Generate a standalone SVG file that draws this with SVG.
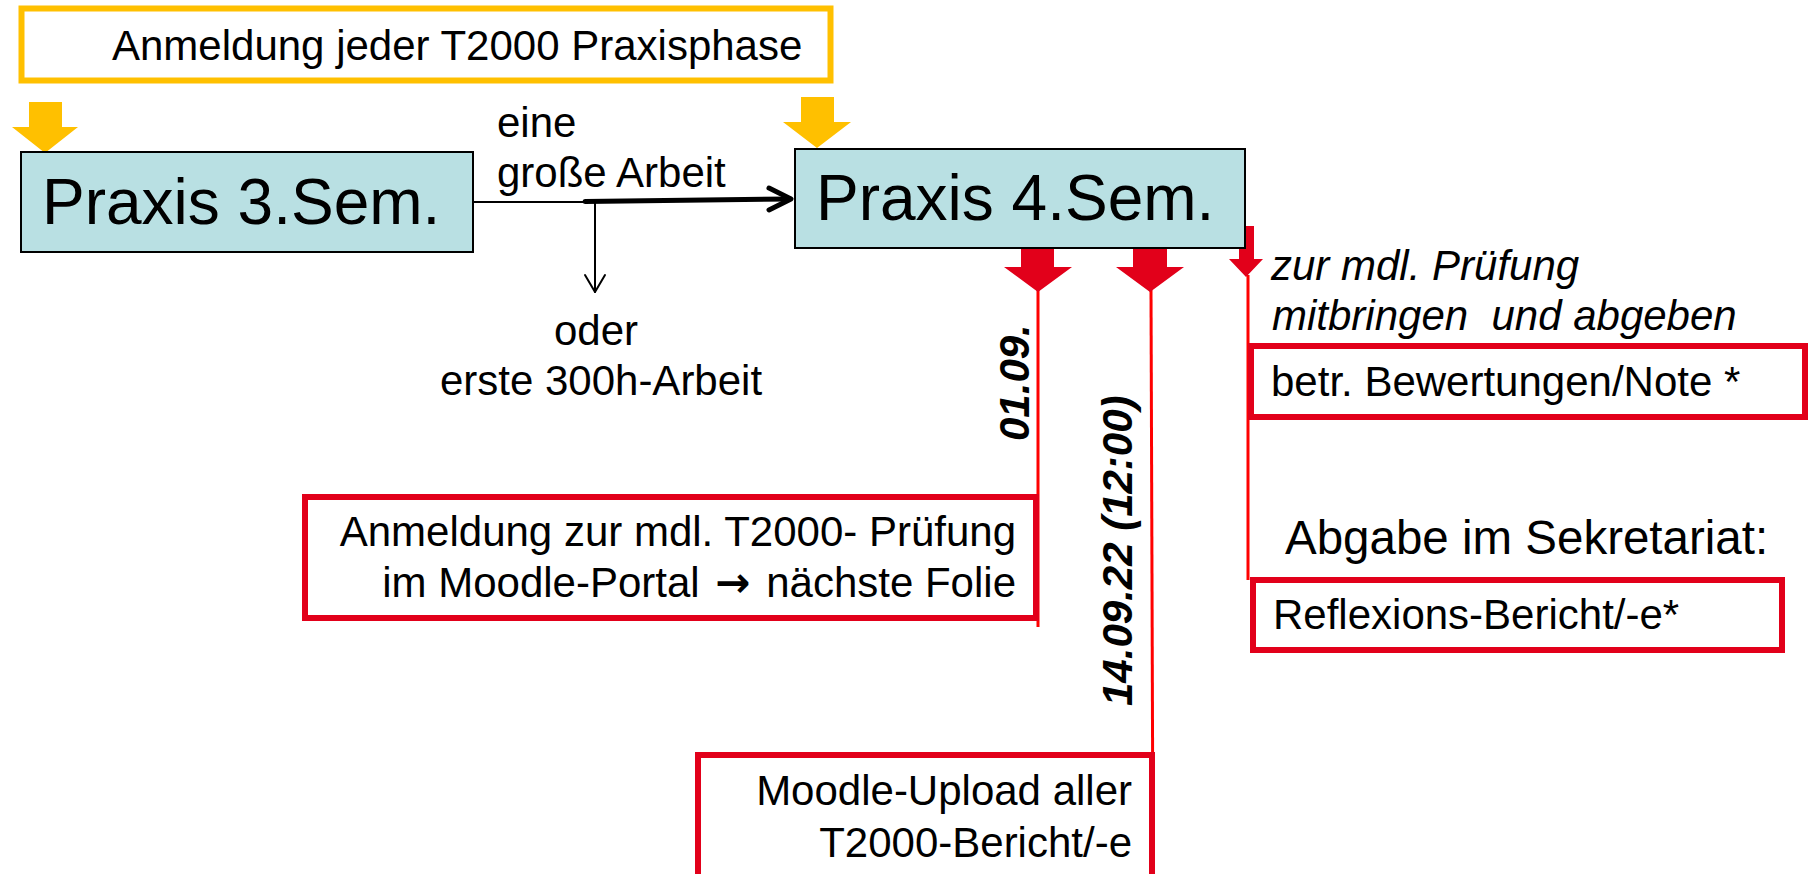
<svg xmlns="http://www.w3.org/2000/svg" width="1808" height="874" viewBox="0 0 1808 874">
<style>
.t{font-family:"Liberation Sans",Arial,sans-serif;font-size:42px;fill:#000}
.big{font-size:64px}
.it{font-style:italic}
.bi{font-style:italic;font-weight:bold}
.end{text-anchor:end}
.arw{font-family:"DejaVu Sans",sans-serif;font-size:42px;font-weight:bold}
.ybox{fill:#fff;stroke:#FFC000;stroke-width:6}
.rbox{fill:#fff;stroke:#E2001A;stroke-width:6}
.tbox{fill:#B9E0E3;stroke:#000;stroke-width:2}
.yarr{fill:#FFC000}
.rarr{fill:#E2001A}
.rline{stroke:#FF0000;stroke-width:3;fill:none}
.bl{stroke:#000;fill:none;stroke-linecap:round;stroke-linejoin:round}
</style>
<rect width="1808" height="874" fill="#fff"/>

<g id="connectors">
  <polygon class="yarr" points="29,102 62,102 62,127 78,127 45,153 12,127 29,127"/>
  <polygon class="yarr" points="801,97 834,97 834,122 851,122 817,148 783,122 801,122"/>
  <line class="bl" x1="473" y1="202" x2="585" y2="202" stroke-width="2"/>
  <line class="bl" x1="585" y1="201.5" x2="790" y2="199" stroke-width="5"/>
  <polyline class="bl" points="769,188 791,199 769,210" stroke-width="5"/>
  <line class="bl" x1="595" y1="202" x2="595" y2="292" stroke-width="2"/>
  <polyline class="bl" points="585,275 595,292 605,275" stroke-width="2"/>
  <line class="rline" x1="1038" y1="290" x2="1038" y2="627"/>
  <line class="rline" x1="1151" y1="290" x2="1153" y2="874"/>
  <line class="rline" x1="1248" y1="275" x2="1248" y2="580"/>
  <polygon class="rarr" points="1021,242 1054,242 1054,267 1072,267 1038,292 1004,267 1021,267"/>
  <polygon class="rarr" points="1133,242 1167,242 1167,267 1184,267 1150,292 1116,267 1133,267"/>
  <polygon class="rarr" points="1239,226 1254,226 1254,259 1263,259 1246,277 1229,259 1239,259"/>
</g>

<g id="header">
  <rect class="ybox" x="21.5" y="8.5" width="809" height="72"/>
  <text class="t" x="112" y="60">Anmeldung jeder T2000 Praxisphase</text>
</g>

<g id="praxis3">
  <rect class="tbox" x="21" y="152" width="452" height="100"/>
  <text class="t big" x="42" y="224">Praxis 3.Sem.</text>
</g>

<g id="praxis4">
  <rect class="tbox" x="795" y="149" width="450" height="99"/>
  <text class="t big" x="816" y="220">Praxis 4.Sem.</text>
</g>

<g id="label-grosse">
  <text class="t" x="497" y="137">eine</text>
  <text class="t" x="497" y="187">große Arbeit</text>
</g>

<g id="label-oder">
  <text class="t" x="596" y="345" text-anchor="middle">oder</text>
  <text class="t" x="601" y="395" text-anchor="middle">erste 300h-Arbeit</text>
</g>

<g id="date1">
  <text class="t bi" transform="translate(1029,441) rotate(-90)">01.09.</text>
</g>

<g id="date2">
  <text class="t bi" transform="translate(1132,706) rotate(-90)">14.09.22 (12:00)</text>
</g>

<g id="anmeldung-pruefung">
  <rect class="rbox" x="305" y="497" width="731" height="121"/>
  <text class="t end" x="1016" y="546">Anmeldung zur mdl. T2000- Prüfung</text>
  <text class="t end" x="1016" y="597">im Moodle-Portal <tspan class="arw" dx="4">→</tspan><tspan dx="4"> nächste Folie</tspan></text>
</g>

<g id="moodle-upload">
  <rect class="rbox" x="698" y="755" width="454" height="140"/>
  <text class="t end" x="1132" y="805">Moodle-Upload aller</text>
  <text class="t end" x="1132" y="857">T2000-Bericht/-e</text>
</g>

<g id="mitbringen">
  <text class="t it" x="1271" y="280">zur mdl. Prüfung</text>
  <text class="t it" x="1272" y="330" xml:space="preserve">mitbringen  und abgeben</text>
</g>

<g id="bewertungen">
  <rect class="rbox" x="1251" y="346" width="554" height="71"/>
  <text class="t" x="1271" y="396">betr. Bewertungen/Note *</text>
</g>

<g id="sekretariat">
  <text class="t" x="1285" y="554" style="font-size:47.5px">Abgabe im Sekretariat:</text>
</g>

<g id="reflexion">
  <rect class="rbox" x="1253" y="580" width="529" height="70"/>
  <text class="t" x="1273" y="629">Reflexions-Bericht/-e*</text>
</g>
</svg>
